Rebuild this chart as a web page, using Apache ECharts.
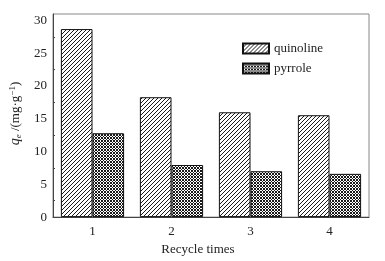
<!DOCTYPE html>
<html>
<head>
<meta charset="utf-8">
<script src="https://cdn.jsdelivr.net/npm/echarts@6/dist/echarts.min.js"></script>
<style>
  html, body { margin: 0; padding: 0; background: #fff; }
  #chart { width: 385px; height: 261px; }
</style>
</head>
<body>
<div id="chart"></div>
<script>
const categories = ["1", "2", "3", "4"];
const quinoline = [28.7, 18.3, 16.0, 15.55];
const pyrrole = [12.8, 7.95, 7.0, 6.6];

// hatch patterns
function hatch(size, draw) {
  let c = document.createElement("canvas");
  c.width = size;
  c.height = size;
  let ctx = c.getContext("2d");
  ctx.fillStyle = "#fff";
  ctx.fillRect(0, 0, size, size);
  ctx.strokeStyle = "#1a1a1a";
  ctx.lineWidth = 1;
  draw(ctx, size);
  return c;
}
let diag = hatch(4, (ctx, s) => {
  ctx.beginPath();
  ctx.moveTo(-1, s + 1);
  ctx.lineTo(s + 1, -1);
  ctx.moveTo(-1, 1);
  ctx.lineTo(1, -1);
  ctx.moveTo(s - 1, s + 1);
  ctx.lineTo(s + 1, s - 1);
  ctx.stroke();
});
let cross = hatch(3, (ctx, s) => {
  ctx.lineWidth = 1;
  ctx.beginPath();
  ctx.moveTo(-1, s + 1);
  ctx.lineTo(s + 1, -1);
  ctx.moveTo(-1, -1);
  ctx.lineTo(s + 1, s + 1);
  ctx.stroke();
});

const font = "Liberation Serif";
let chart = echarts.init(document.getElementById("chart"));
chart.setOption({
  animation: false,
  textStyle: { fontFamily: font },
  grid: {
    left: 53, right: 16, top: 14, bottom: 38,
    show: true, borderColor: "#888", borderWidth: 1
  },
  legend: {
    orient: "vertical",
    left: 242,
    top: 42,
    padding: 0,
    icon: "rect",
    itemWidth: 26,
    itemHeight: 10,
    itemGap: 7,
    textStyle: { fontFamily: font, fontSize: 13, color: "#222" },
    data: ["quinoline", "pyrrole"]
  },
  xAxis: {
    type: "category",
    data: categories,
    name: "Recycle times",
    nameLocation: "middle",
    nameGap: 24,
    nameTextStyle: { fontFamily: font, fontSize: 13, color: "#222", padding: [0, 26, 0, 0] },
    axisLine: { lineStyle: { color: "#444" } },
    axisTick: { inside: true, length: 3, lineStyle: { color: "#444" } },
    axisLabel: { fontFamily: font, fontSize: 13, color: "#222", margin: 8 }
  },
  yAxis: {
    type: "value",
    min: 0,
    max: 31,
    interval: 5,
    name: "{q|q}{e|e} /(mg·g{s|−1})",
    nameLocation: "middle",
    nameRotate: 90,
    nameGap: 30,
    nameTextStyle: {
      fontFamily: font, fontSize: 13, color: "#222",
      padding: [0, 0, 0, 4],
      rich: {
        q: { fontFamily: font, fontStyle: "italic", fontSize: 14, color: "#222" },
        e: { fontFamily: font, fontStyle: "italic", fontSize: 9, color: "#222", verticalAlign: "bottom", padding: [6, 0, 0, 0] },
        s: { fontFamily: font, fontSize: 9, color: "#222", verticalAlign: "top", padding: [0, 0, 6, 0] }
      }
    },
    axisLine: { show: true, lineStyle: { color: "#444" } },
    axisTick: { inside: true, length: 4, lineStyle: { color: "#444" } },
    minorTick: { show: true, splitNumber: 2, length: 2, lineStyle: { color: "#444" } },
    splitLine: { show: false },
    axisLabel: {
      fontFamily: font, fontSize: 13, color: "#222", margin: 6,
      formatter: v => (v % 5 === 0 ? String(v) : "")
    }
  },
  series: [
    {
      name: "quinoline",
      type: "bar",
      data: quinoline,
      barWidth: "40%",
      barGap: "0%",
      itemStyle: { color: { image: diag, repeat: "repeat" }, borderColor: "#111", borderWidth: 1 }
    },
    {
      name: "pyrrole",
      type: "bar",
      data: pyrrole,
      barWidth: "40%",
      itemStyle: { color: { image: cross, repeat: "repeat" }, borderColor: "#111", borderWidth: 1 }
    }
  ]
});
</script>
</body>
</html>
